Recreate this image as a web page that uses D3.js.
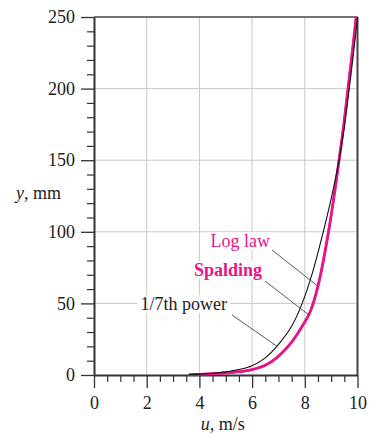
<!DOCTYPE html>
<html>
<head>
<meta charset="utf-8">
<script src="https://cdn.jsdelivr.net/npm/d3@7"></script>
<style>
  html, body { margin: 0; padding: 0; background: #fff; }
  svg { display: block; font-family: "Liberation Serif", "Times New Roman", serif; }
  .grid line { stroke: #c9c9c9; stroke-width: 1; }
  .axis path, .axis line { stroke: #333; }
  .axis text { font-size: 18px; fill: #222; font-family: "Liberation Serif", serif; }
</style>
</head>
<body>
<div id="chart"></div>
<script>
// tick values
const uTicks = [0, 2, 4, 6, 8, 10];
const yTicks = [0, 50, 100, 150, 200, 250];

// 1/7th power law profile (u in m/s, y in mm)
const powerU = [3.6, 4.0, 4.5, 5.0, 5.5, 6.0, 6.5, 6.93, 7.5, 7.9, 8.3, 8.7, 9.0, 9.3, 9.5, 9.68, 9.85, 10];
const powerY = [0.3, 0.6, 1.2, 2.2, 3.8, 6.5, 12, 19.8, 34, 50, 72, 100, 123, 150, 173, 199, 225, 250];

// Spalding profile
const spaldingU = [3.6, 4.0, 4.5, 5.0, 5.5, 6.0, 6.5, 6.93, 7.5, 7.9, 8.15, 8.3, 8.55, 8.9, 9.15, 9.3, 9.48, 9.64, 9.8, 9.95];
const spaldingY = [0.3, 0.5, 0.9, 1.4, 2.3, 3.8, 6.8, 12, 23, 34, 42, 49, 66, 100, 130, 150, 175, 200, 225, 250];

// log law profile
const logLawU = [4.2, 4.6, 5.0, 5.5, 6.0, 6.5, 6.93, 7.5, 7.9, 8.15, 8.3, 8.55, 8.9, 9.15, 9.3, 9.48, 9.64, 9.8, 9.95];
const logLawY = [0.6, 0.9, 1.4, 2.3, 3.8, 6.8, 12, 23, 34, 42, 49, 66, 100, 130, 150, 175, 200, 225, 250];

const pink = '#e8148a';

const width = 369, height = 434;
const margin = { top: 17, right: 11.5, bottom: 59, left: 94 };

const svg = d3.select('#chart').append('svg')
    .attr('width', width)
    .attr('height', height);

const x = d3.scaleLinear()
    .domain([0, 10])
    .range([margin.left, width - margin.right]);

const y = d3.scaleLinear()
    .domain([0, 250])
    .range([height - margin.bottom, margin.top]);

// grid
const grid = svg.append('g').attr('class', 'grid');
grid.selectAll('.vg')
    .data(uTicks.slice(1, -1))
    .enter().append('line')
    .attr('x1', d => x(d)).attr('x2', d => x(d))
    .attr('y1', y(0)).attr('y2', y(250));
grid.selectAll('.hg')
    .data(yTicks.slice(1, -1))
    .enter().append('line')
    .attr('x1', x(0)).attr('x2', x(10))
    .attr('y1', d => y(d)).attr('y2', d => y(d));

// minor ticks
const minorU = d3.range(0, 10.01, 0.5).filter(d => d % 2 !== 0);
const minorY = d3.range(0, 250.1, 10).filter(d => d % 50 !== 0);

svg.append('g')
    .attr('class', 'axis')
    .attr('transform', `translate(0,${y(0)})`)
    .call(d3.axisBottom(x).tickValues(minorU).tickSize(7).tickFormat(''))
    .call(g => g.select('.domain').remove())
    .selectAll('line').attr('stroke-width', 1.2);

svg.append('g')
    .attr('class', 'axis')
    .attr('transform', `translate(${x(0)},0)`)
    .call(d3.axisLeft(y).tickValues(minorY).tickSize(7).tickFormat(''))
    .call(g => g.select('.domain').remove())
    .selectAll('line').attr('stroke-width', 1.2);

// major axes
const xAxis = svg.append('g')
    .attr('class', 'axis')
    .attr('transform', `translate(0,${y(0)})`)
    .call(d3.axisBottom(x).tickValues(uTicks).tickSize(13).tickSizeOuter(0).tickPadding(8));
xAxis.select('.domain').attr('stroke-width', 2);
xAxis.selectAll('line').attr('stroke-width', 1.3);

const yAxis = svg.append('g')
    .attr('class', 'axis')
    .attr('transform', `translate(${x(0)},0)`)
    .call(d3.axisLeft(y).tickValues(yTicks).tickSize(13).tickSizeOuter(0).tickPadding(6));
yAxis.select('.domain').attr('stroke-width', 2);
yAxis.selectAll('line').attr('stroke-width', 1.3);

// top and right frame
svg.append('line')
    .attr('x1', x(0)).attr('x2', x(10))
    .attr('y1', y(250)).attr('y2', y(250))
    .attr('stroke', '#444').attr('stroke-width', 1.5);
svg.append('line')
    .attr('x1', x(10)).attr('x2', x(10))
    .attr('y1', y(250)).attr('y2', y(0))
    .attr('stroke', '#444').attr('stroke-width', 2);

// curves
const line = d3.line()
    .x(d => x(d[0]))
    .y(d => y(d[1]))
    .curve(d3.curveCatmullRom.alpha(0.5));

const zip = (a, b) => a.map((d, i) => [d, b[i]]);

svg.append('path')
    .datum(zip(logLawU, logLawY))
    .attr('d', line)
    .attr('fill', 'none')
    .attr('stroke', pink)
    .attr('stroke-width', 2.2);

svg.append('path')
    .datum(zip(spaldingU, spaldingY))
    .attr('d', line)
    .attr('fill', 'none')
    .attr('stroke', pink)
    .attr('stroke-width', 2.8);

svg.append('path')
    .datum(zip(powerU, powerY))
    .attr('d', line)
    .attr('fill', 'none')
    .attr('stroke', '#111')
    .attr('stroke-width', 1.1);

// annotations: label placed in pixels, leader line to a point on the curve
const notes = [
    { text: 'Log law', color: pink, bold: false, tx: 270, ty: 247, lx: 272, ly: 250, u: 8.5, v: 62 },
    { text: 'Spalding', color: pink, bold: true, tx: 262, ty: 276, lx: 265, ly: 281, u: 8.15, v: 42 },
    { text: '1/7th power', color: '#222', bold: false, tx: 227, ty: 310, lx: 232, ly: 315, u: 6.95, v: 20 }
];

notes.forEach(n => {
    const bg = svg.append('rect').attr('fill', '#fff');
    const t = svg.append('text')
        .attr('x', n.tx)
        .attr('y', n.ty)
        .attr('text-anchor', 'end')
        .attr('font-size', 18)
        .attr('font-weight', n.bold ? 'bold' : 'normal')
        .attr('fill', n.color)
        .text(n.text);
    const b = t.node().getBBox();
    bg.attr('x', b.x - 3).attr('y', b.y + 1)
      .attr('width', b.width + 6).attr('height', b.height - 2);
    svg.append('line')
        .attr('x1', n.lx).attr('y1', n.ly)
        .attr('x2', x(n.u)).attr('y2', y(n.v))
        .attr('stroke', '#444')
        .attr('stroke-width', 0.9);
});

// axis titles
const yt = svg.append('text')
    .attr('x', 16)
    .attr('y', 199)
    .attr('font-size', 18)
    .attr('fill', '#222');
yt.append('tspan').attr('font-style', 'italic').text('y');
yt.append('tspan').text(', mm');

const xt = svg.append('text')
    .attr('x', (x(0) + x(10)) / 2 - 3)
    .attr('y', 430)
    .attr('text-anchor', 'middle')
    .attr('font-size', 18)
    .attr('fill', '#222');
xt.append('tspan').attr('font-style', 'italic').text('u');
xt.append('tspan').text(', m/s');
</script>
</body>
</html>
